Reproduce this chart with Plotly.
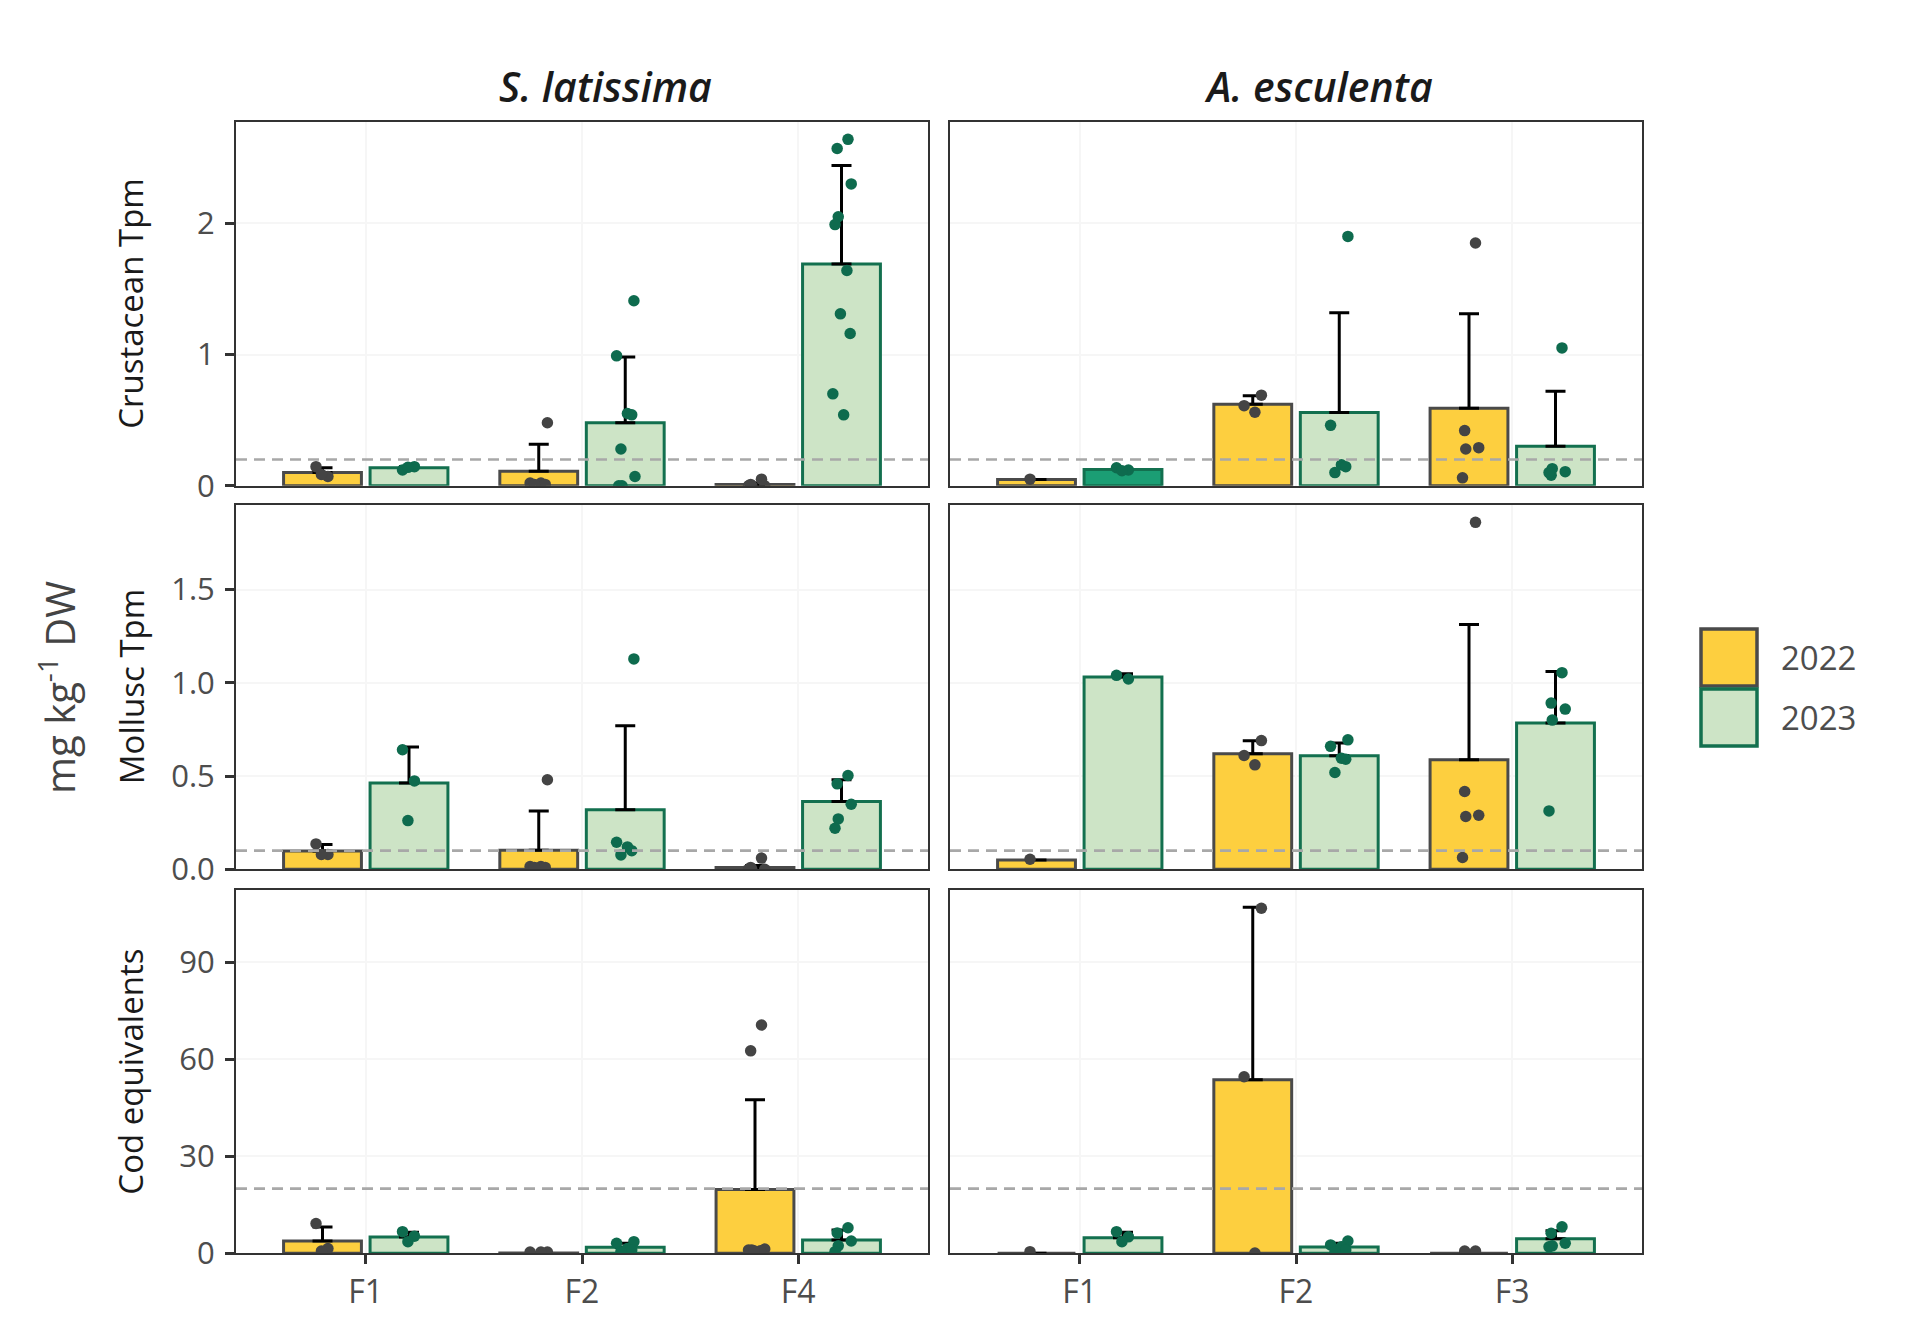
import plotly.graph_objects as go

# ---------------- data ----------------
SPECIES = ["S. latissima", "A. esculenta"]
SITES_SL = ["F1", "F2", "F4"]
SITES_AE = ["F1", "F2", "F3"]
MEASURES = ["Crustacean Tpm", "Mollusc Tpm", "Cod equivalents"]
YEARS = ["2022", "2023"]
THRESHOLDS = [0.2, 0.1, 20]

# Crustacean Tpm
crus_sl_2022_mean = [0.10, 0.11, 0.01]
crus_sl_2022_sd = [0.037, 0.205, 0.01]
crus_sl_2022_pts = [[0.145, 0.07, 0.085], [0.48, 0.02, 0.02, 0.01, 0.01], [0.05, 0.01, 0.0, 0.0, 0.0]]
crus_sl_2023_mean = [0.137, 0.48, 1.69]
crus_sl_2023_sd = [0.01, 0.50, 0.75]
crus_sl_2023_pts = [[0.12, 0.145, 0.14], [1.41, 0.99, 0.55, 0.54, 0.28, 0.07, 0.0, 0.0],
                    [2.64, 2.57, 2.30, 2.05, 1.99, 1.64, 1.31, 1.16, 0.70, 0.54]]
crus_ae_2022_mean = [0.048, 0.62, 0.59]
crus_ae_2022_sd = [0.0, 0.065, 0.72]
crus_ae_2022_pts = [[0.05], [0.69, 0.61, 0.56], [1.85, 0.42, 0.29, 0.28, 0.06]]
crus_ae_2023_mean = [0.124, 0.558, 0.30]
crus_ae_2023_sd = [0.005, 0.76, 0.42]
crus_ae_2023_pts = [[0.137, 0.12, 0.114], [1.90, 0.46, 0.16, 0.145, 0.10], [1.05, 0.08, 0.107, 0.13, 0.10]]

# Mollusc Tpm
moll_sl_2022_mean = [0.098, 0.102, 0.01]
moll_sl_2022_sd = [0.035, 0.21, 0.01]
moll_sl_2022_pts = [[0.136, 0.08, 0.08], [0.48, 0.015, 0.015, 0.01, 0.01], [0.06, 0.01, 0.0, 0.0, 0.0]]
moll_sl_2023_mean = [0.462, 0.319, 0.363]
moll_sl_2023_sd = [0.193, 0.45, 0.117]
moll_sl_2023_pts = [[0.641, 0.474, 0.261], [1.128, 0.145, 0.12, 0.10, 0.077], [0.503, 0.458, 0.349, 0.27, 0.22]]
moll_ae_2022_mean = [0.05, 0.619, 0.587]
moll_ae_2022_sd = [0.0, 0.07, 0.725]
moll_ae_2022_pts = [[0.054], [0.69, 0.61, 0.56], [1.86, 0.417, 0.29, 0.283, 0.063]]
moll_ae_2023_mean = [1.031, 0.609, 0.784]
moll_ae_2023_sd = [0.018, 0.068, 0.277]
moll_ae_2023_pts = [[1.04, 1.02], [0.694, 0.659, 0.596, 0.59, 0.519], [1.054, 0.891, 0.859, 0.80, 0.313]]

# Cod equivalents
cod_sl_2022_mean = [3.8, 0.1, 19.7]
cod_sl_2022_sd = [4.3, 0.0, 27.8]
cod_sl_2022_pts = [[9.2, 1.5, 0.7], [0.4, 0.4, 0.4], [70.6, 62.6, 1.3, 1.0, 1.0, 0.8, 0.8]]
cod_sl_2023_mean = [5.03, 1.85, 4.1]
cod_sl_2023_sd = [1.5, 1.25, 3.1]
cod_sl_2023_pts = [[6.7, 5.3, 3.6], [3.6, 3.1, 1.5, 1.0, 0.5], [7.9, 6.3, 3.8, 2.3, 0.5]]
cod_ae_2022_mean = [0.0, 53.7, 0.0]
cod_ae_2022_sd = [0.0, 53.3, 0.0]
cod_ae_2022_pts = [[0.5], [106.7, 54.6, 0.1], [0.7, 0.7]]
cod_ae_2023_mean = [4.8, 1.95, 4.5]
cod_ae_2023_sd = [1.7, 1.15, 2.5]
cod_ae_2023_pts = [[6.7, 5.1, 3.6], [3.8, 2.6, 2.0, 1.0, 0.4], [8.2, 6.2, 3.1, 2.3, 2.0]]

DATA = {
    (0, 0, 0): (crus_sl_2022_mean, crus_sl_2022_sd, crus_sl_2022_pts),
    (0, 0, 1): (crus_sl_2023_mean, crus_sl_2023_sd, crus_sl_2023_pts),
    (0, 1, 0): (crus_ae_2022_mean, crus_ae_2022_sd, crus_ae_2022_pts),
    (0, 1, 1): (crus_ae_2023_mean, crus_ae_2023_sd, crus_ae_2023_pts),
    (1, 0, 0): (moll_sl_2022_mean, moll_sl_2022_sd, moll_sl_2022_pts),
    (1, 0, 1): (moll_sl_2023_mean, moll_sl_2023_sd, moll_sl_2023_pts),
    (1, 1, 0): (moll_ae_2022_mean, moll_ae_2022_sd, moll_ae_2022_pts),
    (1, 1, 1): (moll_ae_2023_mean, moll_ae_2023_sd, moll_ae_2023_pts),
    (2, 0, 0): (cod_sl_2022_mean, cod_sl_2022_sd, cod_sl_2022_pts),
    (2, 0, 1): (cod_sl_2023_mean, cod_sl_2023_sd, cod_sl_2023_pts),
    (2, 1, 0): (cod_ae_2022_mean, cod_ae_2022_sd, cod_ae_2022_pts),
    (2, 1, 1): (cod_ae_2023_mean, cod_ae_2023_sd, cod_ae_2023_pts),
}

Y_TICKS = [[0, 1, 2], [0, 0.5, 1.0, 1.5], [0, 30, 60, 90]]
Y_TICKTEXT = [["0", "1", "2"], ["0.0", "0.5", "1.0", "1.5"], ["0", "30", "60", "90"]]

# ---------------- styling ----------------
W, H = 1907, 1331
FONT = "Open Sans"
FILL = ["#FDCF3F", "#CDE4C6"]
OUTLINE = ["#4A4A4A", "#13704F"]
PT = ["#444444", "#0E6B4E"]
SPECIAL_FILL = "#1B9E74"   # top-right F1 2023 bar is drawn darker in the reference
DODGE = [-0.2, 0.2]
BAR_W = 0.36
JIT = [-0.03, 0.025, -0.005, 0.04, -0.04, 0.01, 0.03, -0.02, 0.045, -0.015]

X_DOM = [(236, 928), (950, 1642)]
Y_DOM = [(122, 485.7), (505, 869.3), (890, 1253.3)]

fig = go.Figure()
layout = {}
shapes = []

for r in range(3):
    # row range: ggplot-like expansion (0 at bottom, 5% above the max)
    row_max = 0
    for c in range(2):
        for yi in range(2):
            m, s, p = DATA[(r, c, yi)]
            row_max = max(row_max, max(a + b for a, b in zip(m, s)), max(max(g) for g in p))
    ymax = row_max * 1.05
    for c in range(2):
        k = r * 2 + c + 1
        xn = "x" if k == 1 else f"x{k}"
        yn = "y" if k == 1 else f"y{k}"
        sites = SITES_SL if c == 0 else SITES_AE
        for yi in range(2):
            m, s, p = DATA[(r, c, yi)]
            fills = [FILL[yi]] * len(m)
            if (r, c, yi) == (0, 1, 1):
                fills[0] = SPECIAL_FILL
            fig.add_trace(go.Bar(
                x=[i + DODGE[yi] for i in range(len(m))], y=m, width=BAR_W,
                marker=dict(color=fills, line=dict(color=OUTLINE[yi], width=3)),
                error_y=dict(type="data", symmetric=False, array=s, arrayminus=[0] * len(s),
                             color="black", thickness=3, width=10),
                xaxis=xn, yaxis=yn, showlegend=False, hoverinfo="y"))
        for yi in range(2):
            m, s, p = DATA[(r, c, yi)]
            xs, ys = [], []
            for i, grp in enumerate(p):
                for j, v in enumerate(grp):
                    xs.append(i + DODGE[yi] + JIT[(j + i * 3) % len(JIT)])
                    ys.append(v)
            fig.add_trace(go.Scatter(
                x=xs, y=ys, mode="markers",
                marker=dict(color=PT[yi], size=11.5, line=dict(width=0)),
                xaxis=xn, yaxis=yn, showlegend=False, hoverinfo="y"))
        shapes.append(dict(type="line", xref=f"{xn} domain", yref=yn, x0=0, x1=1,
                           y0=THRESHOLDS[r], y1=THRESHOLDS[r],
                           line=dict(color="#A8A8A8", width=2.6, dash="11px,7px"), layer="above"))
        x0, x1 = X_DOM[c]
        ya, yb = Y_DOM[r]
        layout[f"xaxis{k}" if k > 1 else "xaxis"] = dict(
            domain=[x0 / W, x1 / W], range=[-0.6, 2.6], anchor=yn, automargin=False,
            tickvals=[0, 1, 2], ticktext=sites, showticklabels=(r == 2),
            ticks="outside" if r == 2 else "", ticklen=9, tickwidth=2.5, tickcolor="#333333",
            tickfont=dict(family=FONT, size=32, color="#4D4D4D"),
            showgrid=True, gridcolor="#F6F6F6", gridwidth=2, zeroline=False,
            showline=True, mirror=True, linecolor="#333333", linewidth=2, fixedrange=True)
        layout[f"yaxis{k}" if k > 1 else "yaxis"] = dict(
            domain=[1 - yb / H, 1 - ya / H], range=[0, ymax], anchor=xn, automargin=False,
            tickvals=Y_TICKS[r], ticktext=Y_TICKTEXT[r], showticklabels=(c == 0),
            ticks="outside" if c == 0 else "", ticklen=9, tickwidth=2.5, tickcolor="#333333",
            ticklabelstandoff=4,
            tickfont=dict(family=FONT, size=31, color="#4D4D4D"),
            showgrid=True, gridcolor="#F6F6F6", gridwidth=2, zeroline=False,
            showline=True, mirror=True, linecolor="#333333", linewidth=2, fixedrange=True)

annotations = []
# facet titles
for c, sp in enumerate(SPECIES):
    cx = [605, 1318][c]
    annotations.append(dict(text=sp, x=cx / W, y=1 - 86 / H, xref="paper", yref="paper",
                            xanchor="center", yanchor="middle", showarrow=False,
                            font=dict(family=FONT, size=41, color="#1A1A1A", style="italic", weight=600)))
# row titles
for r, meas in enumerate(MEASURES):
    ya, yb = Y_DOM[r]
    annotations.append(dict(text=meas, x=131 / W, y=1 - (ya + yb) / 2 / H, xref="paper", yref="paper",
                            xanchor="center", yanchor="middle", textangle=-90, showarrow=False,
                            font=dict(family=FONT, size=33, color="#1A1A1A")))
# global y title
annotations.append(dict(text="mg kg<sup>-1</sup> DW", x=57 / W, y=1 - 688 / H, xref="paper", yref="paper",
                        xanchor="center", yanchor="middle", textangle=-90, showarrow=False,
                        font=dict(family=FONT, size=40, color="#444444")))
# legend
LEG_BOX = [(1701, 629, 1757, 686), (1701, 689, 1757, 746)]
for yi, yr in enumerate(YEARS):
    bx0, by0, bx1, by1 = LEG_BOX[yi]
    shapes.append(dict(type="rect", xref="paper", yref="paper",
                       x0=bx0 / W, x1=bx1 / W, y0=1 - by1 / H, y1=1 - by0 / H,
                       fillcolor=FILL[yi], line=dict(color=OUTLINE[yi], width=3.5)))
    annotations.append(dict(text=yr, x=1779 / W, y=1 - (by0 + by1) / 2 / H, xref="paper", yref="paper",
                            xanchor="left", yanchor="middle", showarrow=False,
                            font=dict(family=FONT, size=33, color="#4D4D4D")))

fig.update_layout(
    width=W, height=H, margin=dict(l=0, r=0, t=0, b=0, autoexpand=False),
    paper_bgcolor="white", plot_bgcolor="white",
    barmode="overlay", showlegend=False,
    shapes=shapes, annotations=annotations,
    font=dict(family=FONT),
    **layout)

fig.write_html("out.html")
